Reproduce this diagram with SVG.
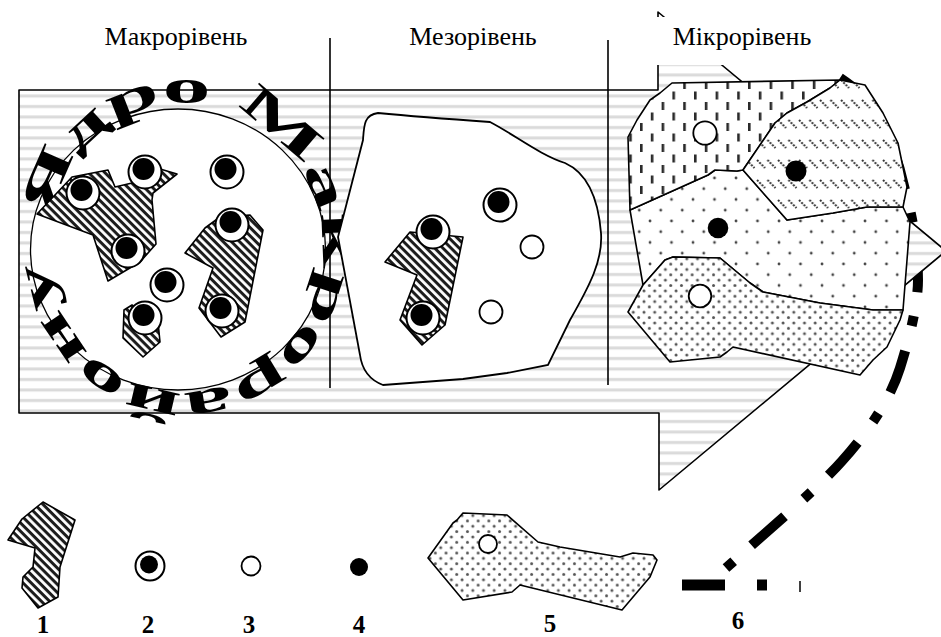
<svg xmlns="http://www.w3.org/2000/svg" width="941" height="637" viewBox="0 0 941 637">
<style>
.ol{stroke:#000;stroke-width:1.6;stroke-linejoin:round}
.title{font-family:"Liberation Serif","Times New Roman",serif;font-size:26px;fill:#000}
.num{font-family:"Liberation Serif","Times New Roman",serif;font-size:25px;font-weight:bold;fill:#000;text-anchor:middle}
.wa{font-family:"Liberation Serif","Times New Roman",serif;font-size:48px;font-weight:bold;fill:#000}
.wc{fill:#fff;stroke:#000;stroke-width:1.8}
.blk{fill:#000}
</style>
<defs>
<pattern id="hs" width="20" height="10.5" patternUnits="userSpaceOnUse" y="90.5">
<rect width="20" height="10.5" fill="#fff"/>
<rect y="4" width="20" height="3" fill="#dadada"/>
</pattern>
<pattern id="diag" width="5.8" height="5.8" patternUnits="userSpaceOnUse" patternTransform="rotate(45)">
<rect width="5.8" height="5.8" fill="#fff"/>
<rect width="5.8" height="3" fill="#1c1c1c"/>
</pattern>
<pattern id="vdash" width="21.6" height="21" patternUnits="userSpaceOnUse" x="640" y="80">
<rect width="21.6" height="21" fill="#fff"/>
<rect x="0" y="1" width="2.6" height="8" fill="#2a2a2a"/>
<rect x="10.8" y="11.5" width="2.6" height="8" fill="#2a2a2a"/>
</pattern>
<pattern id="ddash" width="10.5" height="20" patternUnits="userSpaceOnUse" y="78">
<rect width="10.5" height="20" fill="#fff"/>
<path d="M1,2 L9,10" stroke="#333" stroke-width="2" stroke-dasharray="2 1.3"/>
</pattern>
<pattern id="sdot" width="21.5" height="21.5" patternUnits="userSpaceOnUse" x="3" y="4">
<rect width="21.5" height="21.5" fill="#fff"/>
<circle cx="2" cy="2" r="1.4" fill="#444"/>
<circle cx="12.75" cy="12.75" r="1.4" fill="#444"/>
</pattern>
<pattern id="ddot" width="10.7" height="10.7" patternUnits="userSpaceOnUse">
<rect width="10.7" height="10.7" fill="#fff"/>
<circle cx="2" cy="2" r="1.5" fill="#555"/>
<circle cx="7.35" cy="7.35" r="1.5" fill="#555"/>
</pattern>
<g id="ring">
<circle r="16.5" fill="#fff" stroke="#000" stroke-width="2"/>
<circle cx="-1.5" cy="-3" r="11" fill="#000"/>
</g>
<path id="wap" d="M50,219 A137,144 0 0 1 320,275 A137,144 0 0 1 50,219"/>
</defs>

<g id="boundary">
<path d="M726,568 C780,520 820,486 842,461 C868,432 890,400 900,368 C912,330 918,300 918,280 C918,245 912,215 905,190 C900,167 893,145 880,118 C870,100 855,88 840,78" fill="none" stroke="#000" stroke-width="10" stroke-dasharray="10 24 44 26"/>
</g>

<g id="arrow">
<path d="M19,90 H658 V12 L946,251 L659,490 V413 H19 Z" fill="url(#hs)" class="ol"/>
</g>

<g id="dividers">
<line x1="330" y1="38" x2="330" y2="388" class="ol"/>
<line x1="608" y1="40" x2="608" y2="385" class="ol"/>
</g>

<g id="macro">
<ellipse cx="178" cy="249.5" rx="147.5" ry="140.5" fill="#fff" stroke="#000" stroke-width="1.3"/>
<text class="wa"><textPath href="#wap" textLength="845" lengthAdjust="spacingAndGlyphs">Ядро Макрорайону</textPath></text>
<path d="M37,214 L72,177 L108,170 L115,187 L132,183 L150,166 L177,174 L153,193 L152,200 L156,244 L140,262 L108,281 L93,235 Z" fill="url(#diag)" class="ol"/>
<path d="M185,253 L205,228 L220,217 L250,215 L263,230 L245,322 L221,337 L199,308 L213,268 Z" fill="url(#diag)" class="ol"/>
<path d="M124,310 L132,305 L158,322 L160,342 L143,357 L123,338 Z" fill="url(#diag)" class="ol"/>
<use href="#ring" x="83" y="193"/>
<use href="#ring" x="145" y="172"/>
<use href="#ring" x="128" y="251"/>
<use href="#ring" x="227" y="172"/>
<use href="#ring" x="232" y="225"/>
<use href="#ring" x="167" y="285"/>
<use href="#ring" x="145" y="318"/>
<use href="#ring" x="222" y="311"/>
</g>

<g id="meso">
<path d="M378,113 Q420,117 490,122 C515,135 540,155 565,163 C585,172 598,195 601,233 C603,260 590,285 570,320 L548,365 L507,373 L463,379 L383,385 C370,380 362,370 360,355 Q350,300 338,237 L363,140 C364,125 364,115 378,113 Z" fill="#fff" stroke="#000" stroke-width="1.8"/>
<path d="M385,262 L410,232 L463,237 L445,325 L422,345 L400,320 L417,275 Z" fill="url(#diag)" class="ol"/>
<use href="#ring" x="433" y="232"/>
<use href="#ring" x="423" y="318"/>
<use href="#ring" x="500" y="205"/>
<circle cx="532" cy="247" r="11.5" class="wc"/>
<circle cx="491" cy="312" r="11.5" class="wc"/>
</g>

<g id="micro">
<path d="M630,210 L708,175 L715,170 L737,171 L743,170 L787,220 L833,213 L867,207 L903,207 L910,222 L907,260 L903,310 L873,310 L820,303 L763,292 L750,283 L720,258 L673,257 L665,260 L658,268 L643,285 Z" fill="url(#sdot)" class="ol"/>
<path d="M643,285 L658,268 L665,260 L673,257 L720,258 L750,283 L763,292 L820,303 L873,310 L903,310 L900,320 L887,347 L873,360 L860,375 L733,347 L727,352 L720,357 L670,362 L628,312 Z" fill="url(#ddot)" class="ol"/>
<path d="M628,137 L637,120 L650,100 L660,93 L672,83 L840,80 L830,88 L807,102 L787,113 L775,123 L743,170 L737,171 L715,170 L708,175 L630,210 Z" fill="url(#vdash)" class="ol"/>
<path d="M840,80 L865,85 L883,113 L898,143 L907,187 L903,207 L867,207 L833,213 L787,220 L743,170 L775,123 L787,113 L807,102 L830,88 Z" fill="url(#ddash)" class="ol"/>
<circle cx="705" cy="133" r="11.7" class="wc"/>
<circle cx="796" cy="171" r="10.5" class="blk"/>
<circle cx="718" cy="228" r="10.3" class="blk"/>
<circle cx="700" cy="296" r="11.3" class="wc"/>
</g>

<g id="titles">
<rect x="650" y="17" width="168" height="48" fill="#fff"/>
<text x="176" y="45" text-anchor="middle" class="title">Макрорівень</text>
<text x="473" y="45" text-anchor="middle" class="title">Мезорівень</text>
<text x="742" y="45" text-anchor="middle" class="title">Мікрорівень</text>
</g>

<g id="legend">
<path d="M8,540 L22,519 L43,502 L75,520 L60,567 L58,597 L38,608 L22,588 L23,577 L33,567 L35,548 Z" fill="url(#diag)" class="ol"/>
<circle cx="150" cy="566" r="14.5" fill="#fff" stroke="#000" stroke-width="2"/>
<circle cx="149" cy="564.5" r="9" class="blk"/>
<circle cx="251" cy="566" r="9.5" class="wc"/>
<circle cx="359" cy="567" r="9" class="blk"/>
<path d="M428,558 L453,523 L457,520 L463,513 L507,515 L538,542 L560,547 L620,557 L633,553 L653,555 L657,560 L650,577 L622,610 L520,585 L512,592 L463,600 Z" fill="url(#ddot)" class="ol"/>
<circle cx="488" cy="544" r="9" class="wc"/>
<path d="M682,585 H767" fill="none" stroke="#000" stroke-width="11" stroke-dasharray="43 32 10 200"/>
<line x1="800" y1="581" x2="800" y2="592" stroke="#000" stroke-width="1.5"/>
<text x="43" y="633" class="num">1</text>
<text x="148" y="633" class="num">2</text>
<text x="249" y="633" class="num">3</text>
<text x="359" y="633" class="num">4</text>
<text x="550" y="632" class="num">5</text>
<text x="738" y="629" class="num">6</text>
</g>
</svg>
